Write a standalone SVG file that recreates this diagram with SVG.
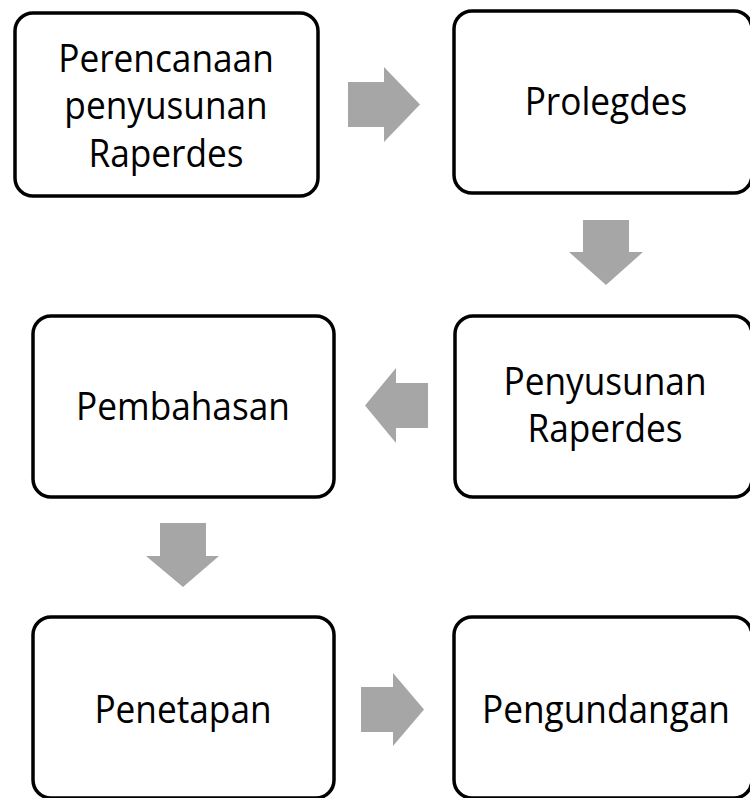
<svg xmlns="http://www.w3.org/2000/svg" width="750" height="798" viewBox="0 0 750 798">
<style>
.box{fill:#ffffff;stroke:#000000;stroke-width:3.5}
.lbl{font-family:"Open Sans","Liberation Sans",sans-serif;font-size:38.5px;fill:#000000;text-anchor:middle}
.arr{fill:#a6a6a6}
</style>
<rect width="750" height="798" fill="#ffffff"/>
<g id="n1"><rect class="box" x="15" y="13" width="303" height="183" rx="18"/>
<g transform="translate(166,0) scale(0.915,1)"><text class="lbl" x="0" y="72">Perencanaan</text><text class="lbl" x="0" y="119.5">penyusunan</text><text class="lbl" x="0" y="167">Raperdes</text></g></g>
<g id="n2"><rect class="box" x="454" y="11" width="298" height="182" rx="18"/>
<g transform="translate(606,0) scale(0.915,1)"><text class="lbl" x="0" y="115">Prolegdes</text></g></g>
<g id="n3"><rect class="box" x="455" y="316" width="297" height="181" rx="18"/>
<g transform="translate(605,0) scale(0.915,1)"><text class="lbl" x="0" y="395">Penyusunan</text><text class="lbl" x="0" y="442.5">Raperdes</text></g></g>
<g id="n4"><rect class="box" x="33" y="316" width="301" height="181" rx="18"/>
<g transform="translate(183,0) scale(0.915,1)"><text class="lbl" x="0" y="420">Pembahasan</text></g></g>
<g id="n5"><rect class="box" x="33" y="617" width="301" height="181" rx="18"/>
<g transform="translate(183,0) scale(0.915,1)"><text class="lbl" x="0" y="723">Penetapan</text></g></g>
<g id="n6"><rect class="box" x="454" y="617" width="298" height="181" rx="18"/>
<g transform="translate(606,0) scale(0.915,1)"><text class="lbl" x="0" y="723">Pengundangan</text></g></g>
<g id="connectors">
<polygon class="arr" points="348,82 384,82 384,67 420,104.5 384,142 384,127 348,127"/>
<polygon class="arr" points="583,220 629,220 629,252 643,252 606,285 569,252 583,252"/>
<polygon class="arr" points="428,383 396,383 396,368 365,405.5 396,443 396,428 428,428"/>
<polygon class="arr" points="160,523 206,523 206,556 219,556 183,587 146,556 160,556"/>
<polygon class="arr" points="361,687 393,687 393,673 424,709.5 393,746 393,732 361,732"/>
</g>
</svg>
